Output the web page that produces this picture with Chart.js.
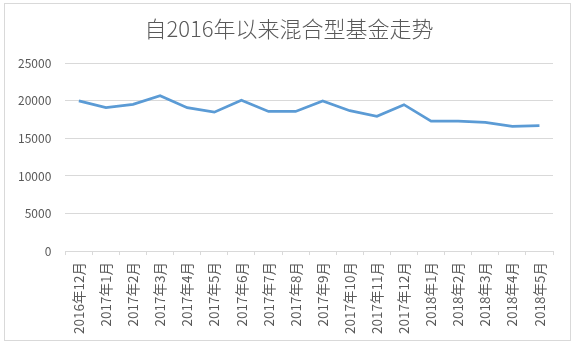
<!DOCTYPE html>
<html>
<head>
<meta charset="utf-8">
<script src="https://cdn.jsdelivr.net/npm/chart.js@4"></script>
<style>
  html, body { margin: 0; padding: 0; background: #ffffff; }
  #wrap { position: relative; width: 580px; height: 348px; }
</style>
</head>
<body>
<div id="wrap"><canvas id="c" width="580" height="348"></canvas></div>
<script>
// Monthly mixed-fund series
const months = [
  '2016年12月', '2017年1月', '2017年2月', '2017年3月', '2017年4月', '2017年5月',
  '2017年6月', '2017年7月', '2017年8月', '2017年9月', '2017年10月', '2017年11月',
  '2017年12月', '2018年1月', '2018年2月', '2018年3月', '2018年4月', '2018年5月'
];
const fundValues = [
  20000, 19100, 19550, 20700, 19100, 18500,
  20100, 18600, 18600, 20000, 18700, 17950,
  19500, 17300, 17300, 17150, 16600, 16700
];
const yTicks = [0, 5000, 10000, 15000, 20000, 25000];
const chartTitle = '自2016年以来混合型基金走势';

const FONT = '"Noto Sans CJK SC", "Noto Sans", sans-serif';
const TEXT = '#595959';
const GRID = '#d9d9d9';

// Thin frame around the whole chart; title centred on the frame
const framePlugin = {
  id: 'frame',
  afterLayout(chart) {
    const t = chart.titleBlock;
    if (t) {
      t.left = 4;
      t.right = 574;
      t.width = 570;
    }
  },
  beforeDraw(chart) {
    const ctx = chart.ctx;
    ctx.save();
    ctx.fillStyle = '#ffffff';
    ctx.fillRect(0, 0, chart.width, chart.height);
    ctx.strokeStyle = GRID;
    ctx.lineWidth = 1;
    ctx.strokeRect(4.5, 3.5, 566, 337);
    ctx.restore();
  }
};

new Chart(document.getElementById('c'), {
  type: 'line',
  data: {
    labels: months,
    datasets: [{
      data: fundValues,
      borderColor: '#5b9bd5',
      borderWidth: 2.75,
      pointRadius: 0,
      pointHoverRadius: 0,
      tension: 0,
      fill: false
    }]
  },
  options: {
    responsive: false,
    animation: false,
    devicePixelRatio: 1,
    layout: { padding: { left: 4, right: 27, top: 8, bottom: 7 } },
    plugins: {
      legend: { display: false },
      tooltip: { enabled: false },
      title: {
        display: true,
        text: chartTitle,
        color: TEXT,
        font: { family: FONT, size: 22, weight: 300 },
        padding: { top: 7, bottom: 22 }
      }
    },
    scales: {
      x: {
        offset: true,
        grid: {
          display: true,
          drawOnChartArea: false,
          drawTicks: true,
          tickLength: 4,
          offset: true,
          color: GRID
        },
        border: { display: true, color: GRID },
        ticks: {
          color: TEXT,
          font: { family: FONT, size: 13.5 },
          minRotation: 90,
          maxRotation: 90,
          autoSkip: false,
          padding: 7
        }
      },
      y: {
        min: 0,
        max: 25000,
        afterBuildTicks(axis) {
          axis.ticks = yTicks.map(v => ({ value: v }));
        },
        grid: { color: GRID, drawTicks: false },
        border: { display: false },
        ticks: {
          color: TEXT,
          font: { family: FONT, size: 12 },
          padding: 14,
          callback: v => String(v)
        }
      }
    }
  },
  plugins: [framePlugin]
});
</script>
</body>
</html>
